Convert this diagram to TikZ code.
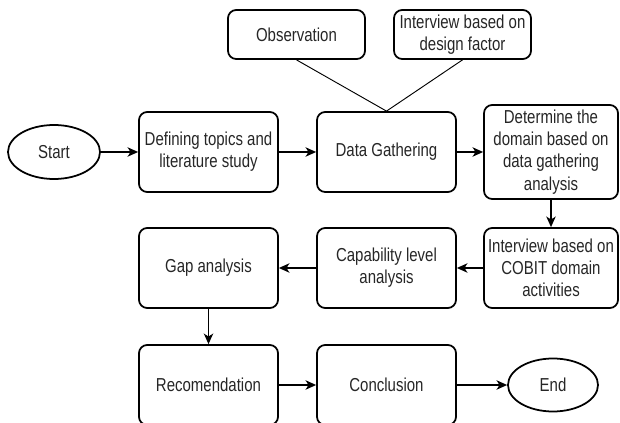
\documentclass[tikz,border=0pt]{standalone}
\usepackage{fontspec}
\setmainfont{Liberation Sans}[FakeStretch=0.8]
\usetikzlibrary{arrows, arrows.meta, shapes.geometric}

\tikzset{
  procbox/.style={draw, line width=1.5pt, rounded corners=7pt, align=center, inner sep=1pt,
    minimum width=41.7mm, minimum height=24mm, text=black!85,
    font=\fontsize{16}{19}\selectfont},
  smallbox/.style={procbox, minimum height=14.7mm, minimum width=41.1mm},
  termnode/.style={draw, ellipse, line width=1.5pt, inner sep=0pt, text=black!85,
    minimum width=27.6mm, minimum height=16.2mm, font=\fontsize{16}{19}\selectfont},
  flow/.style={line width=1.1pt, -{Stealth[length=9pt,width=8pt,inset=2.5pt]}},
  link/.style={line width=0.8pt}
}

\begin{document}
\begin{tikzpicture}[x=0.3mm, y=-0.3mm]
\useasboundingbox (0,0) rectangle (620,423); %page size of the reference
% top row
\node[termnode] (start) at (54,152) {Start};
\node[procbox] (define) at (208.5,152) {Defining topics and\\literature study};
\node[procbox] (gather) at (386.5,152) {Data Gathering};
\node[procbox, minimum width=40.2mm, minimum height=28.2mm] (determine) at (551,152)
  {Determine the\\domain based on\\data gathering\\analysis};
\node[smallbox] (observe) at (296.5,34.5) {Observation};
\node[smallbox] (intdesign) at (462.5,34.5) {Interview based on\\design factor};
% middle row
\node[procbox, minimum width=40.2mm] (intcobit) at (551,268) {Interview based on\\COBIT domain\\activities};
\node[procbox] (capab) at (386.5,268) {Capability level\\analysis};
\node[procbox] (gap) at (208.5,268) {Gap analysis};
% bottom row
\node[procbox] (recom) at (208.5,385) {Recomendation};
\node[procbox] (concl) at (386.5,385) {Conclusion};
\node[termnode, minimum width=27mm, minimum height=15.9mm] (finish) at (553,385) {End};

\draw[link] (observe.south) -- (gather.north);
\draw[link] (intdesign.south) -- (gather.north);
\draw[flow] (start) -- (define);
\draw[flow] (define) -- (gather);
\draw[flow] (gather) -- (determine);
\draw[flow] (determine) -- (intcobit);
\draw[flow] (intcobit) -- (capab);
\draw[flow] (capab) -- (gap);
\draw[flow] (gap) -- (recom);
\draw[flow] (recom) -- (concl);
\draw[flow] (concl) -- (finish);
\end{tikzpicture}
\end{document}
